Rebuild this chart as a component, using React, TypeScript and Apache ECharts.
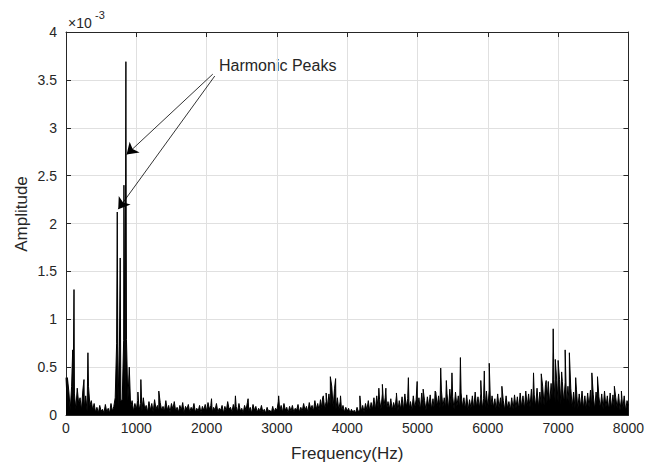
import React, { useEffect, useRef } from "react";
import * as echarts from "echarts";

// Frequency axis ticks (Hz) and amplitude ticks (x10^-3)
const xTicks = [0, 1000, 2000, 3000, 4000, 5000, 6000, 7000, 8000];
const yTicks = [0, 0.5, 1, 1.5, 2, 2.5, 3, 3.5, 4];

// Background spectrum, amplitude (x10^-3) sampled every 20 Hz from 0 Hz
const noiseStartHz = 0;
const noiseStepHz = 20;
const noiseAmps = [
  0.39, 0.08, 0.25, 0.05, 0.3, 0.1, 0.22, 0.06, 0.28, 0.12,
  0.18, 0.05, 0.26, 0.08, 0.2, 0.04, 0.3, 0.1, 0.15, 0.05,
  0.12, 0.03, 0.08, 0.02, 0.1, 0.04, 0.06, 0.02, 0.11, 0.03,
  0.07, 0.02, 0.12, 0.04, 0.09, 0.18, 0.75, 0.1, 0.72, 0.15,
  0.16, 0.78, 0.2, 0.79, 0.15, 0.5, 0.08, 0.15, 0.04, 0.12,
  0.06, 0.15, 0.05, 0.12, 0.04, 0.18, 0.06, 0.1, 0.03, 0.14,
  0.05, 0.12, 0.03, 0.16, 0.06, 0.1, 0.04, 0.13, 0.05, 0.09,
  0.04, 0.15, 0.05, 0.1, 0.03, 0.12, 0.06, 0.14, 0.04, 0.08,
  0.03, 0.1, 0.05, 0.13, 0.02, 0.09, 0.06, 0.11, 0.03, 0.08,
  0.05, 0.12, 0.03, 0.07, 0.04, 0.1, 0.02, 0.09, 0.05, 0.11,
  0.04, 0.13, 0.06, 0.1, 0.03, 0.08, 0.05, 0.12, 0.03, 0.07,
  0.05, 0.1, 0.02, 0.09, 0.04, 0.14, 0.06, 0.08, 0.03, 0.11,
  0.05, 0.09, 0.03, 0.12, 0.04, 0.07, 0.02, 0.1, 0.05, 0.13,
  0.04, 0.08, 0.02, 0.11, 0.05, 0.09, 0.03, 0.07, 0.04, 0.1,
  0.03, 0.06, 0.02, 0.08, 0.04, 0.05, 0.02, 0.09, 0.03, 0.07,
  0.05, 0.14, 0.04, 0.1, 0.03, 0.12, 0.05, 0.08, 0.02, 0.09,
  0.04, 0.1, 0.03, 0.07, 0.05, 0.11, 0.03, 0.08, 0.04, 0.12,
  0.05, 0.09, 0.03, 0.13, 0.06, 0.1, 0.04, 0.15, 0.06, 0.12,
  0.05, 0.16, 0.07, 0.2, 0.06, 0.14, 0.08, 0.22, 0.09, 0.3,
  0.08, 0.28, 0.06, 0.18, 0.05, 0.14, 0.04, 0.1, 0.03, 0.08,
  0.04, 0.07, 0.02, 0.06, 0.03, 0.05, 0.02, 0.08, 0.03, 0.06,
  0.04, 0.1, 0.03, 0.12, 0.05, 0.15, 0.04, 0.13, 0.06, 0.18,
  0.05, 0.2, 0.07, 0.16, 0.06, 0.22, 0.08, 0.18, 0.05, 0.14,
  0.06, 0.17, 0.05, 0.13, 0.07, 0.2, 0.04, 0.15, 0.06, 0.19,
  0.05, 0.22, 0.08, 0.17, 0.06, 0.14, 0.05, 0.2, 0.07, 0.16,
  0.06, 0.18, 0.05, 0.23, 0.07, 0.15, 0.05, 0.19, 0.08, 0.21,
  0.06, 0.17, 0.05, 0.24, 0.09, 0.2, 0.07, 0.26, 0.08, 0.18,
  0.07, 0.22, 0.06, 0.27, 0.08, 0.19, 0.06, 0.24, 0.09, 0.2,
  0.07, 0.23, 0.08, 0.18, 0.06, 0.21, 0.05, 0.16, 0.07, 0.2,
  0.06, 0.24, 0.08, 0.19, 0.07, 0.22, 0.06, 0.17, 0.08, 0.25,
  0.07, 0.26, 0.06, 0.2, 0.08, 0.17, 0.05, 0.22, 0.07, 0.18,
  0.06, 0.15, 0.05, 0.2, 0.07, 0.14, 0.05, 0.18, 0.06, 0.21,
  0.07, 0.19, 0.06, 0.23, 0.08, 0.2, 0.06, 0.25, 0.09, 0.22,
  0.08, 0.27, 0.07, 0.21, 0.09, 0.28, 0.08, 0.24, 0.1, 0.3,
  0.1, 0.32, 0.12, 0.35, 0.11, 0.33, 0.14, 0.37, 0.12, 0.36,
  0.13, 0.37, 0.11, 0.35, 0.12, 0.34, 0.1, 0.3, 0.09, 0.28,
  0.08, 0.24, 0.07, 0.27, 0.06, 0.22, 0.08, 0.25, 0.07, 0.2,
  0.06, 0.23, 0.08, 0.26, 0.07, 0.21, 0.06, 0.24, 0.08, 0.19,
  0.07, 0.22, 0.06, 0.25, 0.08, 0.2, 0.05, 0.23, 0.07, 0.21,
  0.06, 0.18, 0.07, 0.22, 0.05, 0.17, 0.06, 0.2, 0.04, 0.15,
  0.1,
];

// Isolated spectral lines (Hz) and their amplitudes (x10^-3)
const peakFreqs = [
  20, 95, 114, 256, 312, 729, 771, 824, 852, 1023, 1065, 1320, 2070, 2410,
  2590, 3025, 3650, 3700, 3760, 3835, 3905, 4180, 4450, 4500, 4550, 4700,
  4870, 4995, 5080, 5250, 5330, 5410, 5490, 5610, 5900, 5950, 6020, 6200,
  6650, 6760, 6830, 6930, 6960, 7000, 7050, 7100, 7160, 7250, 7480, 7560,
  7800, 7900,
];
const peakAmps = [
  0.39, 0.68, 1.31, 0.37, 0.65, 2.12, 1.64, 2.4, 3.69, 0.24, 0.37, 0.25, 0.17,
  0.2, 0.17, 0.2, 0.18, 0.23, 0.4, 0.38, 0.2, 0.2, 0.28, 0.32, 0.28, 0.23,
  0.39, 0.35, 0.27, 0.25, 0.49, 0.36, 0.44, 0.6, 0.36, 0.46, 0.54, 0.3, 0.44,
  0.43, 0.36, 0.9, 0.58, 0.57, 0.45, 0.68, 0.65, 0.39, 0.44, 0.4, 0.3, 0.25,
];

// Annotation "Harmonic Peaks": arrow tails and heads in data units
const annotationText = "Harmonic Peaks";
const arrowTails = [
  [2088, 3.56],
  [2116, 3.54],
];
const arrowHeads = [
  [862, 2.72],
  [743, 2.15],
];

const FONT = "'Liberation Sans', Arial, Helvetica, sans-serif";
const AX = "#262626";

export default function App() {
  const ref = useRef<HTMLDivElement>(null);
  useEffect(() => {
    if (!ref.current) return;
    const chart = echarts.init(ref.current, undefined, { renderer: "svg" });

    const pts: [number, number][] = [];
    noiseAmps.forEach((a, i) => pts.push([noiseStartHz + i * noiseStepHz, a]));
    peakFreqs.forEach((f, i) => pts.push([f, peakAmps[i]]));
    pts.sort((p, q) => p[0] - q[0]);

    const axisCommon = {
      type: "value" as const,
      axisLine: { show: true, onZero: false, lineStyle: { color: AX, width: 1 } },
      axisTick: { show: true, inside: true, length: 5, lineStyle: { color: AX } },
    };

    chart.setOption({
      animation: false,
      backgroundColor: "#ffffff",
      textStyle: { fontFamily: FONT },
      grid: { left: 66, right: 17, top: 32, bottom: 55, containLabel: false },
      xAxis: [
        {
          ...axisCommon,
          position: "bottom",
          min: xTicks[0],
          max: xTicks[xTicks.length - 1],
          interval: 1000,
          name: "Frequency(Hz)",
          nameLocation: "middle",
          nameGap: 30,
          nameTextStyle: { fontSize: 17, color: AX, fontFamily: FONT },
          axisLabel: {
            fontSize: 14,
            color: AX,
            margin: 6,
            fontFamily: FONT,
            formatter: (v: number) => String(v),
          },
          splitLine: { show: true, lineStyle: { color: "#e0e0e0", width: 1 } },
        },
        {
          ...axisCommon,
          position: "top",
          min: xTicks[0],
          max: xTicks[xTicks.length - 1],
          interval: 1000,
          axisLabel: { show: false },
          splitLine: { show: false },
        },
      ],
      yAxis: [
        {
          ...axisCommon,
          position: "left",
          min: yTicks[0],
          max: yTicks[yTicks.length - 1],
          interval: 0.5,
          axisLabel: {
            fontSize: 14,
            color: AX,
            margin: 9,
            fontFamily: FONT,
            formatter: (v: number) => String(v),
          },
          splitLine: { show: true, lineStyle: { color: "#e0e0e0", width: 1 } },
        },
        {
          ...axisCommon,
          position: "right",
          min: yTicks[0],
          max: yTicks[yTicks.length - 1],
          interval: 0.5,
          axisLabel: { show: false },
          splitLine: { show: false },
        },
      ],
      graphic: [
        {
          type: "text",
          x: 21,
          y: 214,
          rotation: Math.PI / 2,
          style: {
            text: "Amplitude",
            fontSize: 17,
            fill: AX,
            fontFamily: FONT,
            align: "center",
            verticalAlign: "middle",
          },
        },
        {
          type: "text",
          left: 68,
          top: 16,
          style: { text: "×10", fontSize: 14, fill: AX, fontFamily: FONT },
        },
        {
          type: "text",
          left: 95,
          top: 9,
          style: { text: "-3", fontSize: 11, fill: AX, fontFamily: FONT },
        },
        {
          type: "text",
          left: 219,
          top: 57,
          style: { text: annotationText, fontSize: 16, fill: AX, fontFamily: FONT },
        },
      ],
      series: [
        {
          type: "line",
          xAxisIndex: 0,
          yAxisIndex: 0,
          data: pts,
          showSymbol: false,
          lineStyle: { color: "#000000", width: 1 },
          itemStyle: { color: "#000000" },
          areaStyle: { color: "#000000", opacity: 1, origin: "start" },
          markLine: {
            silent: true,
            symbol: ["none", "arrow"],
            symbolSize: 11,
            label: { show: false },
            itemStyle: { color: "#000000" },
            lineStyle: { color: "#000000", width: 0.8, type: "solid" },
            data: arrowTails.map((t, i) => [
              { coord: t, symbol: "none" },
              { coord: arrowHeads[i], symbol: "arrow", symbolSize: 11 },
            ]),
          },
        },
      ],
    });
    return () => chart.dispose();
  }, []);
  return (
    <div
      ref={ref}
      style={{ position: "absolute", left: 0, top: 0, width: 647, height: 470 }}
    />
  );
}
